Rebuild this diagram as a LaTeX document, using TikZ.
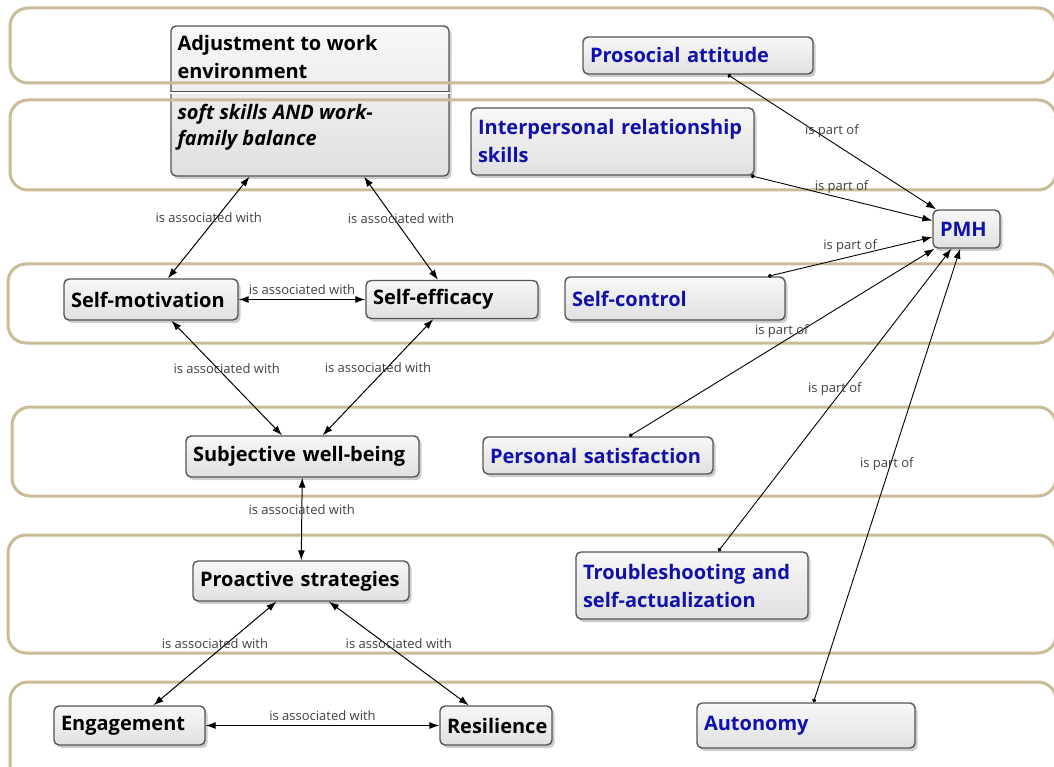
\documentclass[tikz,border=0pt]{standalone}
\usepackage{fontspec}
\setmainfont{Open Sans}
\usetikzlibrary{arrows.meta,shadows}

\definecolor{bandtan}{RGB}{201,188,150}
\definecolor{partblue}{RGB}{16,16,170}
\definecolor{boxline}{RGB}{85,85,85}

\exhyphenpenalty=10000

\begin{document}
\begin{tikzpicture}[x=1pt, y=-1pt,
    concept/.style={rectangle, rounded corners=5pt, draw=boxline, line width=1.4pt,
        top color=black!3, bottom color=black!12,
        drop shadow={shadow xshift=2.5pt, shadow yshift=-3pt, opacity=0.4},
        inner xsep=7pt, inner ysep=4pt, align=left,
        font=\fontsize{20}{28}\selectfont\bfseries},
    core/.style={concept, text=black},
    part/.style={concept, text=partblue},
    wh/.style 2 args={text width=#1, minimum height=#2},
    band/.style={draw=bandtan, line width=3pt, rounded corners=18pt},
    assoc/.style={{Latex[length=10pt,width=7pt]}-{Latex[length=10pt,width=7pt]}, line width=1pt},
    partof/.style={{Circle[length=4pt]}-{Latex[length=10pt,width=7pt]}, line width=0.9pt},
    lbl/.style={font=\fontsize{13}{15}\selectfont, text=black!75, inner xsep=1pt, inner ysep=4pt, anchor=south}
]
\useasboundingbox (0,0) rectangle (1054,767);
\clip (0,0) rectangle (1054,767);

% Adjustment box with its sub-heading
\node[core, minimum width=278pt, minimum height=150pt] (adj) at (310,101) {};
\coordinate (sepl) at ([yshift=-67.5pt]adj.north west);
\coordinate (sepr) at ([yshift=-67.5pt]adj.north east);
\draw[boxline, double, double distance=1.6pt, line width=0.8pt] (sepl) -- (sepr);
\node[anchor=north west, inner xsep=7pt, inner ysep=10pt, align=left,
      font=\fontsize{20}{28}\selectfont\bfseries] (adjtitle) at (adj.north west)
      {Adjustment to work\\environment};
\node[anchor=north west, inner xsep=7pt, inner ysep=11pt, align=left,
      font=\fontsize{20}{26}\selectfont\bfseries\itshape] (adjsub) at (sepl)
      {soft skills AND work-\\family balance};

% Concepts on the left
\node[core, wh={160pt}{41pt}] (selfmot) at (151,299.5) {Self-motivation};
\node[core, wh={158pt}{38pt}] (selfeff) at (452,299.5) {Self-efficacy};
\node[core, wh={219pt}{41pt}] (swb) at (302.5,456.5) {Subjective well-being};
\node[core, wh={202pt}{40pt}] (proact) at (301,581) {Proactive strategies};
\node[core, wh={137pt}{39pt}] (engage) at (129.5,725.5) {Engagement};
\node[core, wh={98pt}{39pt}] (resil) at (496,725.5) {Resilience};

% Parts of PMH
\node[part, wh={53pt}{38pt}] (pmh) at (966.5,229) {PMH};
\node[part, wh={216pt}{37pt}] (prosoc) at (698,55.5) {Prosocial attitude};
\node[part, wh={269pt}{67pt}] (interp) at (612.5,141.5) {Interpersonal relationship\\skills};
\node[part, wh={206pt}{43pt}] (selfctl) at (675,298.5) {Self-control};
\node[part, wh={216pt}{37pt}] (perssat) at (598,455.5) {Personal satisfaction};
\node[part, wh={218pt}{67pt}] (trouble) at (692,585.5) {Troubleshooting and\\self-actualization};
\node[part, wh={204pt}{45pt}] (auton) at (806,725.5) {Autonomy};

% Bands
\draw[band] (10,8) rectangle (1056,83);
\draw[band] (10,100) rectangle (1056,190);
\draw[band] (8,264) rectangle (1056,343);
\draw[band] (12,407) rectangle (1056,496);
\draw[band] (8,535) rectangle (1056,653);
\draw[band] (10,682) rectangle (1056,790);

% Associations
\draw[assoc] (adj) -- node[lbl] {is associated with} (selfmot);
\draw[assoc] (adj) -- node[lbl] {is associated with} (selfeff);
\draw[assoc] (selfmot) -- node[lbl] {is associated with} (selfeff);
\draw[assoc] (selfmot) -- node[lbl] {is associated with} (swb);
\draw[assoc] (selfeff) -- node[lbl] {is associated with} (swb);
\draw[assoc] (swb) -- node[lbl] {is associated with} (proact);
\draw[assoc] (proact) -- node[lbl] {is associated with} (engage);
\draw[assoc] (proact) -- node[lbl] {is associated with} (resil);
\draw[assoc] (engage) -- node[lbl] {is associated with} (resil);

% is part of
\draw[partof] (prosoc) -- node[lbl] {is part of} (pmh);
\draw[partof] (interp) -- node[lbl] {is part of} (pmh);
\draw[partof] (selfctl) -- node[lbl] {is part of} (pmh);
\draw[partof] (perssat) -- node[lbl] {is part of} (pmh);
\draw[partof] (trouble) -- node[lbl] {is part of} (pmh);
\draw[partof] (auton) -- node[lbl] {is part of} (pmh);

\end{tikzpicture}
\end{document}
